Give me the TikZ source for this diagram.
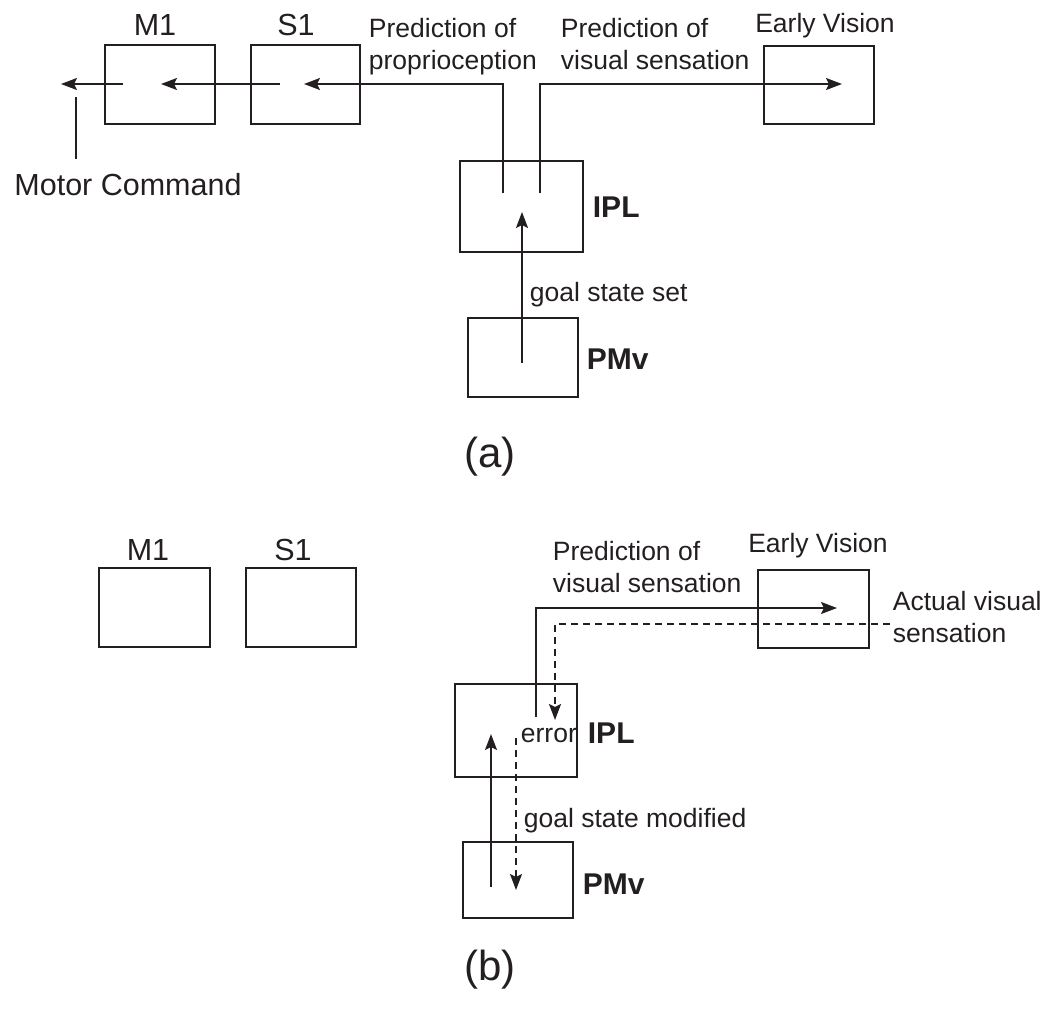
\documentclass[tikz,border=0pt]{standalone}
\usepackage{fontspec}
\setmainfont{Liberation Sans}
\usetikzlibrary{arrows.meta}
\definecolor{ink}{HTML}{231F20}
\begin{document}
\begin{tikzpicture}[x=1pt,y=-1pt, line width=1.8pt, draw=ink, text=ink,
  box/.style={draw=ink, rectangle, inner sep=0pt},
  arr/.style={-{Stealth[length=16pt,width=12pt,inset=3pt]}},
  dsh/.style={dash pattern=on 7pt off 5pt},
  lab/.style={font=\fontsize{26.5}{31.5}\selectfont, inner sep=0pt},
  big/.style={font=\fontsize{30.5}{36}\selectfont, inner sep=0pt},
  bl/.style={font=\fontsize{30}{36}\selectfont\bfseries, inner sep=0pt},
  caption/.style={font=\fontsize{42}{50}\selectfont, inner sep=0pt}]
\useasboundingbox (0,0) rectangle (1047,1010);

% ---------------- panel (a) ----------------
\node[box, minimum width=110pt, minimum height=79pt] (M1a) at (160,84.5) {};
\node[box, minimum width=109pt, minimum height=79pt] (S1a) at (305.5,84.5) {};
\node[box, minimum width=110pt, minimum height=78pt] (EVa) at (819,85) {};
\node[box, minimum width=123pt, minimum height=91pt] (IPLa) at (521.5,206.5) {};
\node[box, minimum width=110pt, minimum height=79pt] (PMva) at (523,357.5) {};

\node[big, anchor=base] (M1alab) at (155,35) {M1};
\node[big, anchor=base] (S1alab) at (296,35) {S1};
\node[lab, anchor=base] (EValab) at (825,32) {Early Vision};
\node[bl, anchor=base west] (IPLalab) at (592,217) {IPL};
\node[bl, anchor=base west] (PMvalab) at (586,369) {PMv};
\node[lab, anchor=base west] (goalset) at (529,301) {goal state set};
\node[big, anchor=base] (motor) at (128,195) {Motor Command};
\node[lab, anchor=north west, align=left] (predprop) at (368,17.7) {Prediction of\\proprioception};
\node[lab, anchor=north west, align=left] (predvisa) at (560,17.7) {Prediction of\\visual sensation};
\node[caption, anchor=base] (capa) at (490,467) {(a)};

\coordinate (ipl1) at (503,193);
\coordinate (ipl2) at (540,193);
\coordinate (s1tip) at (304,84);
\coordinate (s1out) at (280,84);
\coordinate (m1tip) at (161,84);
\coordinate (m1out) at (123,84);
\coordinate (mctip) at (61,84);
\coordinate (mctop) at (76,97);
\coordinate (mcbot) at (76,159);
\coordinate (evtip) at (842,84);
\coordinate (pmva) at (522,363);
\coordinate (iplatip) at (522,212);

\draw[arr] (ipl1) |- (s1tip);
\draw[arr] (s1out) -- (m1tip);
\draw[arr] (m1out) -- (mctip);
\draw (mctop) -- (mcbot);
\draw[arr] (ipl2) |- (evtip);
\draw[arr] (pmva) -- (iplatip);

% ---------------- panel (b) ----------------
\node[box, minimum width=111pt, minimum height=79pt] (M1b) at (154.5,607.5) {};
\node[box, minimum width=110pt, minimum height=79pt] (S1b) at (301,607.5) {};
\node[box, minimum width=111pt, minimum height=78pt] (EVb) at (813.5,609) {};
\node[box, minimum width=122pt, minimum height=93pt] (IPLb) at (516,730.5) {};
\node[box, minimum width=110pt, minimum height=76pt] (PMvb) at (518,880) {};

\node[big, anchor=base] (M1blab) at (148,560) {M1};
\node[big, anchor=base] (S1blab) at (293,560) {S1};
\node[lab, anchor=base] (EVblab) at (818,552) {Early Vision};
\node[bl, anchor=base west] (IPLblab) at (587,743) {IPL};
\node[bl, anchor=base west] (PMvblab) at (582,894) {PMv};
\node[lab, anchor=base west] (goalmod) at (523,827) {goal state modified};
\node[lab, anchor=base west] (err) at (520,742) {error};
\node[lab, anchor=north west, align=left] (predvisb) at (552,540.7) {Prediction of\\visual sensation};
\node[lab, anchor=north west, align=left] (actual) at (892,590.7) {Actual visual\\sensation};
\node[caption, anchor=base] (capb) at (490,980) {(b)};

\coordinate (iplb1) at (536,717);
\coordinate (evbtip) at (837,608);
\coordinate (actstart) at (890,624);
\coordinate (iplbtip) at (555,720);
\coordinate (pmvb1) at (491,887);
\coordinate (iplbup) at (491,734);
\coordinate (errout) at (516,738);
\coordinate (pmvbtip) at (516,890);

\draw[arr] (iplb1) |- (evbtip);
\draw[arr, dsh] (actstart) -| (iplbtip);
\draw[arr] (pmvb1) -- (iplbup);
\draw[arr, dsh] (errout) -- (pmvbtip);
\end{tikzpicture}
\end{document}
